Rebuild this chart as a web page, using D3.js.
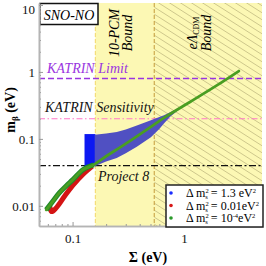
<!DOCTYPE html>
<html>
<head>
<meta charset="utf-8">
<script src="https://cdn.jsdelivr.net/npm/d3@7"></script>
<style>
  body { margin: 0; background: #fff; }
  svg text { font-family: "Liberation Serif", "DejaVu Serif", serif; }
</style>
</head>
<body>
<svg id="chart" width="266" height="266"></svg>
<script>
// green curve (dm2 = 1e-4)
var greenSigma = [0.058, 0.066, 0.076, 0.088, 0.1, 0.123, 0.155, 0.2, 0.265, 0.38, 0.5, 0.66, 1.13, 2, 3.1];
var greenM = [0.0087, 0.0115, 0.0156, 0.020, 0.0244, 0.0344, 0.041, 0.055, 0.074, 0.11, 0.15, 0.206, 0.356, 0.64, 1.03];
// red curve (dm2 = 0.01)
var redSigma = [0.062, 0.065, 0.072, 0.085, 0.1, 0.125, 0.15];
var redM = [0.0102, 0.0082, 0.0095, 0.014, 0.020, 0.030, 0.039];
// blue (dm2 = 1.3): solid block + scattered band
var rectSigma = [0.128, 0.16];
var rectM = [0.039, 0.118];
var bandSigma = [0.158, 0.2, 0.249, 0.3, 0.377, 0.504, 0.6, 0.66, 0.75, 0.9];
var bandUpper = [0.115, 0.12, 0.127, 0.138, 0.158, 0.19, 0.212, 0.226, 0.25, 0.29];
var bandLower = [0.039, 0.046, 0.052, 0.061, 0.076, 0.106, 0.14, 0.17, 0.215, 0.275];
// bounds and limits
var boundSigma = [0.16, 0.54];
var limitNames = ["KATRIN Limit", "KATRIN Sensitivity", "Project 8"];
var limitM = [0.8, 0.2, 0.04];
var xTicks = [0.1, 1];
var xTickLabels = ["0.1", "1"];
var xMinor = [0.06, 0.07, 0.08, 0.09, 0.2, 0.3, 0.4, 0.5, 0.6, 0.7, 0.8, 0.9, 2, 3, 4, 5];
var yTicks = [0.01, 0.1, 1, 10];
var yTickLabels = ["0.01", "0.1", "1", "10"];
var yMinor = [0.006, 0.007, 0.008, 0.009, 0.02, 0.03, 0.04, 0.05, 0.06, 0.07, 0.08, 0.09,
              0.2, 0.3, 0.4, 0.5, 0.6, 0.7, 0.8, 0.9, 2, 3, 4, 5, 6, 7, 8, 9];
var legendValues = ["1.3 eV", "0.01eV", "10"];
var legendColors = ["#1a2cff", "#d81818", "#2a9a2a"];

var svg = d3.select("#chart");
var x = d3.scaleLog().domain([0.05, 5]).range([39, 262]);
var y = d3.scaleLog().domain([0.005, 10.7]).range([226, 3]);

// hatch pattern
var pat = svg.append("defs").append("pattern")
  .attr("id", "hatch").attr("patternUnits", "userSpaceOnUse")
  .attr("width", 11).attr("height", 7);
pat.append("path")
  .attr("d", "M-1,-0.64 L12,7.64 M-1,6.36 L1,7.64 M10,-0.64 L12,0.64")
  .attr("stroke", "#b9b27a").attr("stroke-width", 0.7);

// yellow regions
svg.append("rect")
  .attr("x", x(boundSigma[0])).attr("y", y.range()[1])
  .attr("width", x.range()[1] - x(boundSigma[0]))
  .attr("height", y.range()[0] - y.range()[1])
  .attr("fill", "#fcf8b4");
svg.append("rect")
  .attr("x", x(boundSigma[1])).attr("y", y.range()[1])
  .attr("width", x.range()[1] - x(boundSigma[1]))
  .attr("height", y.range()[0] - y.range()[1])
  .attr("fill", "url(#hatch)");
svg.selectAll(".bound").data(boundSigma).enter().append("line")
  .attr("x1", function (d) { return x(d); }).attr("x2", function (d) { return x(d); })
  .attr("y1", y.range()[1]).attr("y2", y.range()[0])
  .attr("stroke", function (d, i) { return i == 0 ? "#f2d868" : "#c49a3a"; })
  .attr("stroke-width", 1).attr("stroke-dasharray", "4,2");

// horizontal limits
var limitColors = ["#9a35e0", "#ff78c8", "#111"];
var limitDash = ["6,3", "6,2.5,1.5,2.5", "7,2.5,2,2.5"];
svg.selectAll(".limit").data(limitM).enter().append("line")
  .attr("x1", x.range()[0]).attr("x2", x.range()[1])
  .attr("y1", function (d) { return y(d); }).attr("y2", function (d) { return y(d); })
  .attr("stroke", function (d, i) { return limitColors[i]; })
  .attr("stroke-width", function (d, i) { return i == 0 ? 1.5 : 1.2; })
  .attr("stroke-dasharray", function (d, i) { return limitDash[i]; });

// blue data
svg.append("rect")
  .attr("x", x(rectSigma[0])).attr("y", y(rectM[1]))
  .attr("width", x(rectSigma[1]) - x(rectSigma[0]))
  .attr("height", y(rectM[0]) - y(rectM[1]))
  .attr("fill", "#0c18f2");
var band = d3.area()
  .x(function (d, i) { return x(bandSigma[i]); })
  .y0(function (d, i) { return y(bandLower[i]); })
  .y1(function (d, i) { return y(bandUpper[i]); });
svg.append("path").datum(bandSigma).attr("d", band).attr("fill", "#5050c2");

// red and green
var line = d3.line()
  .x(function (d) { return x(d[0]); })
  .y(function (d) { return y(d[1]); })
  .curve(d3.curveMonotoneX);
var redPts = redSigma.map(function (s, i) { return [s, redM[i]]; });
var greenPts = greenSigma.map(function (s, i) { return [s, greenM[i]]; });
svg.append("path").datum(redPts).attr("d", line)
  .attr("fill", "none").attr("stroke", "#d41414").attr("stroke-width", 5);
svg.append("path").datum(greenPts.filter(function (d) { return d[0] <= 0.155; })).attr("d", line)
  .attr("fill", "none").attr("stroke", "#1f8a2a").attr("stroke-width", 5);
svg.append("path").datum(greenPts).attr("d", line)
  .attr("fill", "none").attr("stroke", "#4a9e22").attr("stroke-width", 2.8)
  .attr("stroke-linecap", "round");

// text labels
svg.append("text").attr("x", 47).attr("y", 73).attr("font-size", "14px")
  .attr("font-style", "italic").attr("fill", "#9a35e0").text(limitNames[0]);
svg.append("text").attr("x", 45).attr("y", 112).attr("font-size", "14px")
  .attr("font-style", "italic").attr("fill", "#111").text(limitNames[1]);
svg.append("text").attr("x", 98).attr("y", 181).attr("font-size", "14px")
  .attr("font-style", "italic").attr("fill", "#111").text(limitNames[2]);

function vtext(tx, ty) {
  return svg.append("text").attr("transform", "translate(" + tx + "," + ty + ") rotate(-90)")
    .attr("text-anchor", "middle").attr("font-size", "14px").attr("font-style", "italic");
}
vtext(119, 33).text("10-PCM");
vtext(132, 33).text("Bound");
var lcdm = vtext(197, 33);
lcdm.append("tspan").text("e\u039B");
lcdm.append("tspan").attr("font-size", "8px").attr("font-style", "normal").attr("dy", 2).text("CDM");
vtext(211, 33).text("Bound");

// SNO-NO box
svg.append("rect").attr("x", 40).attr("y", 3.5).attr("width", 58).attr("height", 21)
  .attr("fill", "#fff").attr("stroke", "#111").attr("stroke-width", 1.5);
svg.append("text").attr("x", 69).attr("y", 19.5).attr("text-anchor", "middle")
  .attr("font-size", "14px").attr("font-style", "italic").text("SNO-NO");

// axes
function styleAxis(g) {
  g.select(".domain").attr("stroke", "#b4b4b4").attr("stroke-width", 1.6);
  g.selectAll(".tick line").attr("stroke", "#999");
  g.selectAll("text").attr("font-size", "13px").attr("fill", "#111")
    .attr("font-family", "Liberation Serif, serif");
}
svg.append("g").attr("transform", "translate(0,226)")
  .call(d3.axisBottom(x).tickValues(xMinor).tickSize(-2).tickSizeOuter(0).tickFormat(""))
  .call(styleAxis);
svg.append("g").attr("transform", "translate(0,226)")
  .call(d3.axisBottom(x).tickValues(xTicks).tickSize(-4).tickSizeOuter(0).tickPadding(8)
    .tickFormat(function (d, i) { return xTickLabels[i]; }))
  .call(styleAxis);
svg.append("g").attr("transform", "translate(39,0)")
  .call(d3.axisLeft(y).tickValues(yMinor).tickSize(-2).tickSizeOuter(0).tickFormat(""))
  .call(styleAxis);
var yAxisG = svg.append("g").attr("transform", "translate(39,0)")
  .call(d3.axisLeft(y).tickValues(yTicks).tickSize(-4).tickSizeOuter(0).tickPadding(4)
    .tickFormat(function (d, i) { return yTickLabels[i]; }))
  .call(styleAxis);
// top label pushed down so it stays inside the page
yAxisG.selectAll(".tick text").filter(function (d) { return d == 10; }).attr("dy", "0.62em");

// axis titles
var yl = svg.append("text").attr("transform", "translate(15,110) rotate(-90)")
  .attr("text-anchor", "middle").attr("font-size", "14px").attr("font-weight", "bold");
yl.append("tspan").text("m");
yl.append("tspan").attr("font-size", "9px").attr("dy", 3).text("\u03B2");
yl.append("tspan").attr("dy", -3).text(" (eV)");
svg.append("text").attr("x", 148).attr("y", 262).attr("text-anchor", "middle")
  .attr("font-size", "14px").attr("font-weight", "bold").text("\u03A3 (eV)");

// legend
svg.append("rect").attr("x", 166).attr("y", 185).attr("width", 97).attr("height", 42)
  .attr("fill", "#fff").attr("stroke", "#222").attr("stroke-width", 1.5);
legendValues.forEach(function (v, i) {
  var cy = 193 + i * 12.5;
  svg.append("circle").attr("cx", 171).attr("cy", cy).attr("r", 1.8).attr("fill", legendColors[i]);
  var t = svg.append("text").attr("x", 186).attr("y", cy + 4).attr("font-size", "12px");
  t.append("tspan").text("\u0394 m");
  t.append("tspan").attr("font-size", "6.5px").attr("dy", -4).text("2");
  t.append("tspan").attr("font-size", "6.5px").attr("dx", -3.3).attr("dy", 6).text("s");
  t.append("tspan").attr("dy", -2).text(" = " + v);
  if (i == 2) {
    t.append("tspan").attr("font-size", "6.5px").attr("dy", -4).text("-4");
    t.append("tspan").attr("dy", 4).text("eV");
  }
  t.append("tspan").attr("font-size", "6.5px").attr("dy", -4).text("2");
});
</script>
</body>
</html>
